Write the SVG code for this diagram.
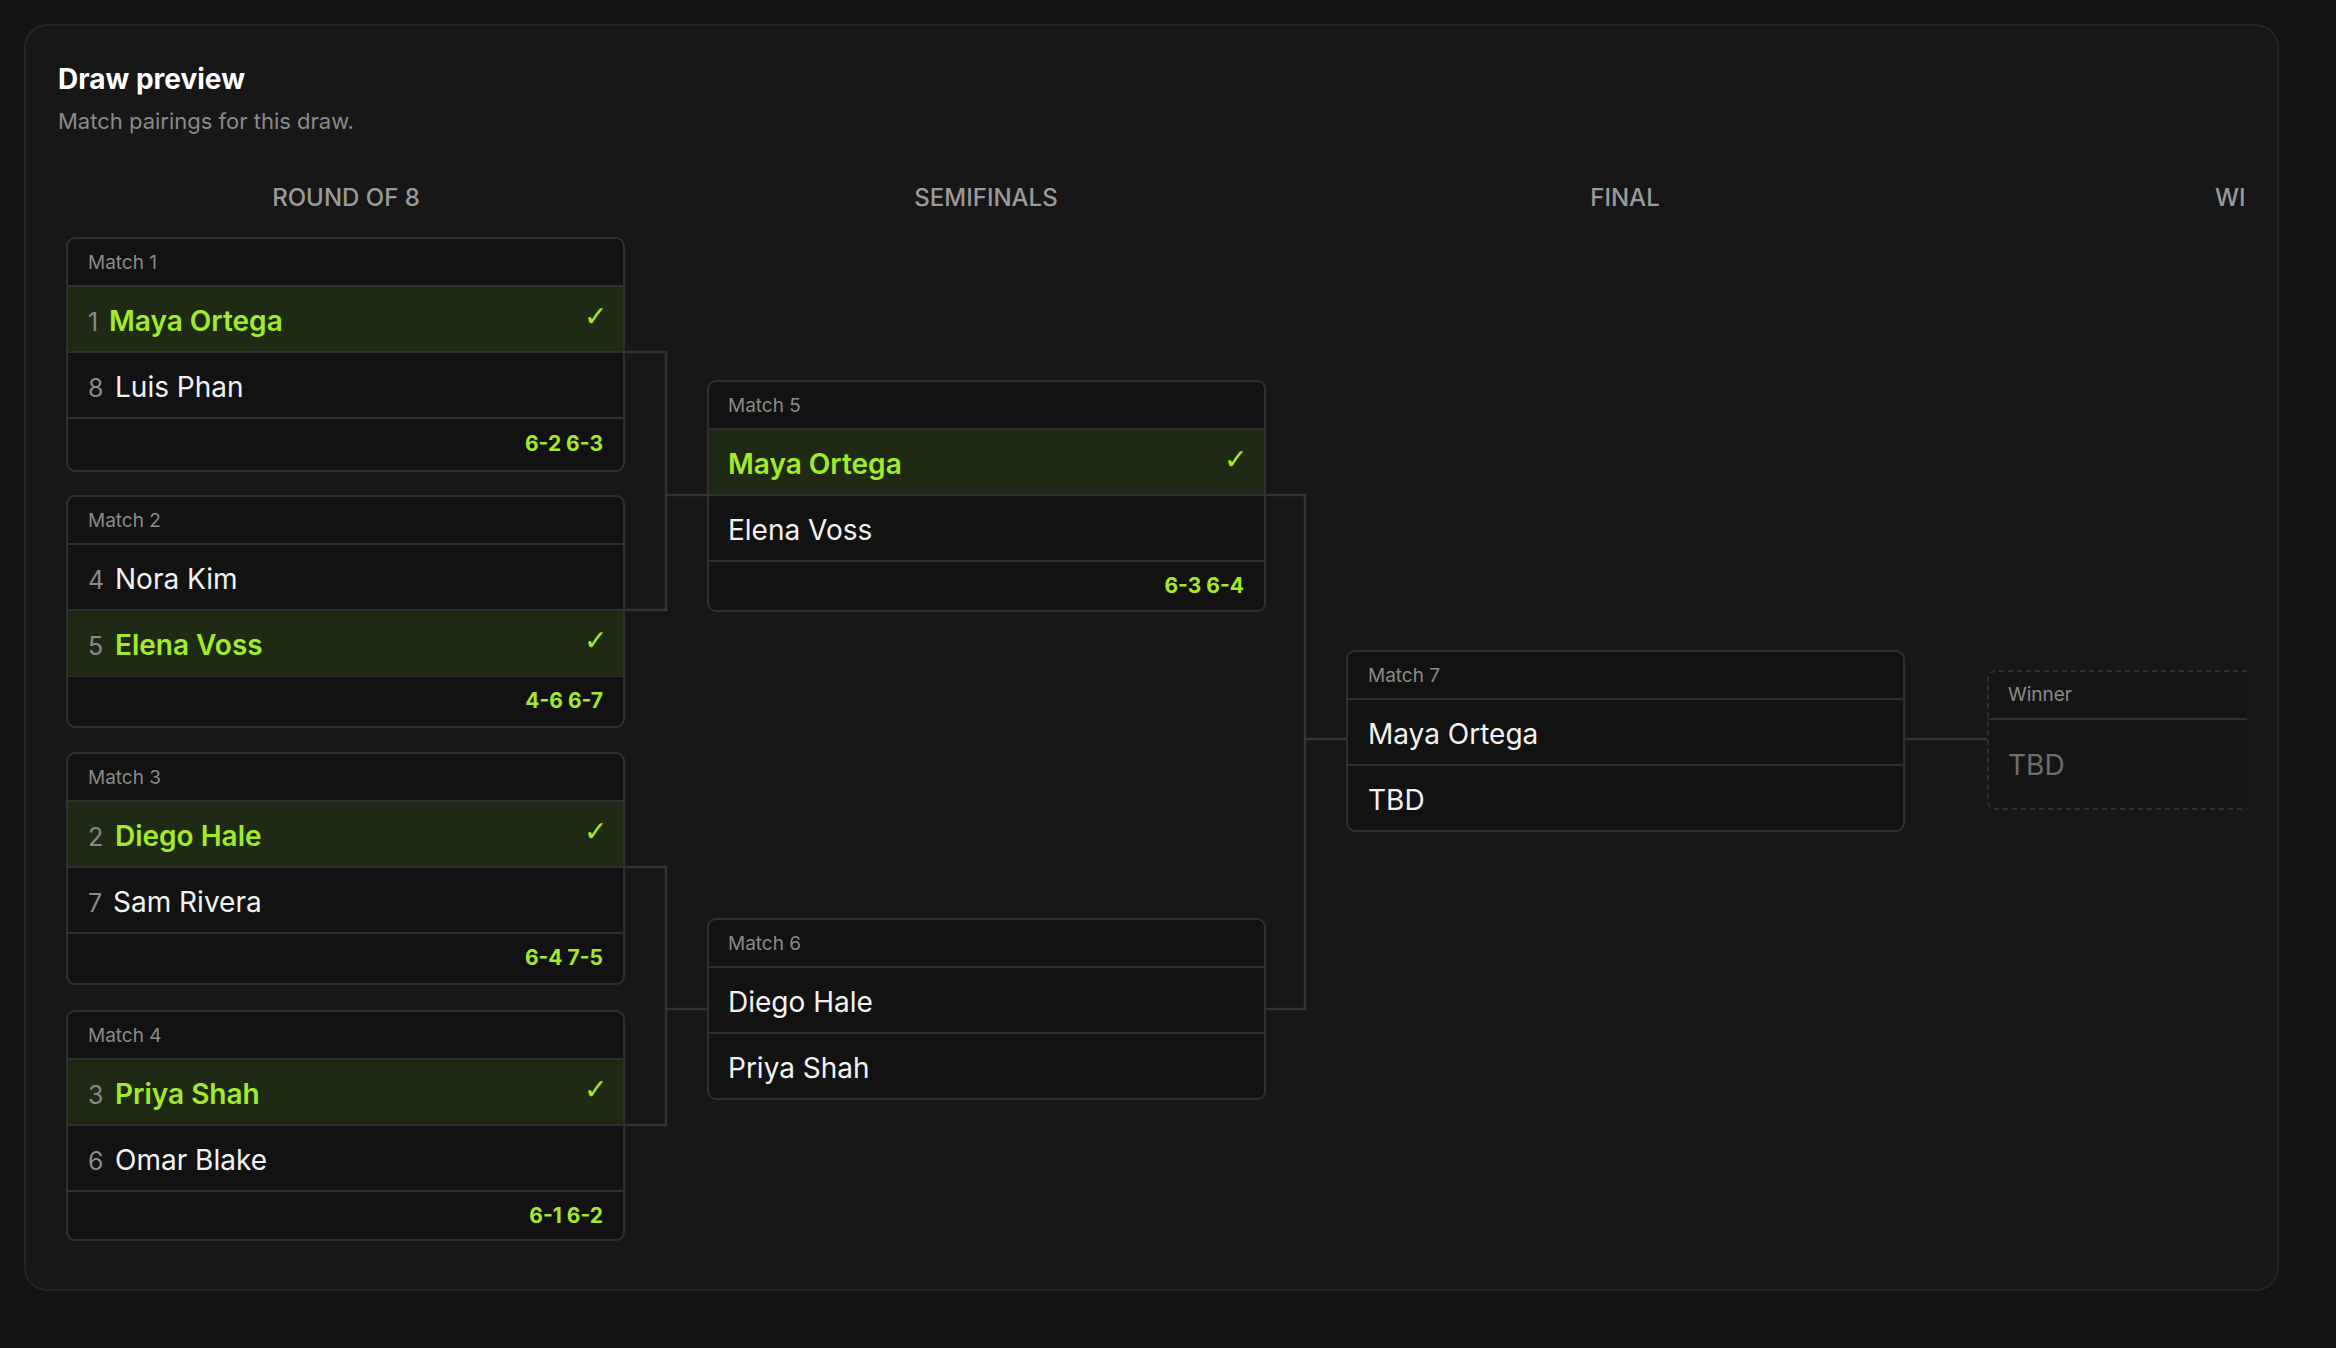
<svg xmlns="http://www.w3.org/2000/svg" width="2336" height="1348" viewBox="0 0 2336 1348">
<style>
text{font-family:Inter,"Noto Sans",sans-serif}
.box{fill:#121212;stroke:#2f2f2f;stroke-width:2}
.div{stroke:#2f2f2f;stroke-width:2}
.win{fill:#1f2a15}
.lbl{font-size:19px;fill:#8a8a8a}
.seed{font-size:25px;fill:#8a8a8a}
.nm{font-size:28px;fill:#f2f2f2}
.nw{font-size:28px;fill:#a3ea2a;font-weight:600}
.chk{font-size:28px;fill:#a3ea2a;font-family:"DejaVu Sans",sans-serif}
.sc{font-size:21px;fill:#a3ea2a;font-weight:700;text-anchor:end}
.hd{font-size:24px;fill:#9a9a9a;font-weight:500;text-anchor:middle}
.con{fill:none;stroke:#333;stroke-width:2.5}
</style>
<rect width="2336" height="1348" fill="#131313"/>
<rect x="25" y="25" width="2253" height="1265" rx="22" fill="#171717" stroke="#242424" stroke-width="2"/>
<text x="58" y="89" font-size="28" font-weight="700" fill="#ffffff">Draw preview</text>
<text x="58" y="129" font-size="22" fill="#8a8a8a">Match pairings for this draw.</text>
<text class="hd" x="346" y="206">ROUND OF 8</text>
<text class="hd" x="986" y="206">SEMIFINALS</text>
<text class="hd" x="1625" y="206">FINAL</text>
<text x="2215" y="206" font-size="24" fill="#9a9a9a" font-weight="500">WI</text>
<g id="connectors">
<path class="con" d="M624 352H666V610H624M666 495H708"/>
<path class="con" d="M624 867H666V1125H624M666 1009H708"/>
<path class="con" d="M1265 495H1305V1009H1265M1305 739H1347"/>
<path class="con" d="M1904 739H1987"/>
</g>
<g id="match1">
<rect class="box" x="67" y="238" width="557" height="233" rx="8"/>
<rect class="win" x="68" y="287" width="555" height="65"/>
<path class="div" d="M68 286H623M68 352H623M68 418H623"/>
<text class="lbl" x="88" y="269">Match 1</text>
<text class="seed" x="88" y="331">1</text><text class="nw" x="109" y="331">Maya Ortega</text><text class="chk" x="584" y="326">✓</text>
<text class="seed" x="88" y="397">8</text><text class="nm" x="115" y="397">Luis Phan</text>
<text class="sc" x="603" y="451">6-2 6-3</text>
</g>
<g id="match2">
<rect class="box" x="67" y="496" width="557" height="231" rx="8"/>
<path class="div" d="M68 544H623M68 610H623M68 676H623"/>
<rect class="win" x="68" y="611" width="555" height="65"/>
<text class="lbl" x="88" y="527">Match 2</text>
<text class="seed" x="88" y="589">4</text><text class="nm" x="115" y="589">Nora Kim</text>
<text class="seed" x="88" y="655">5</text><text class="nw" x="115" y="655">Elena Voss</text><text class="chk" x="584" y="650">✓</text>
<text class="sc" x="603" y="708">4-6 6-7</text>
</g>
<g id="match3">
<rect class="box" x="67" y="753" width="557" height="231" rx="8"/>
<rect class="win" x="68" y="802" width="555" height="65"/>
<path class="div" d="M68 801H623M68 867H623M68 933H623"/>
<text class="lbl" x="88" y="784">Match 3</text>
<text class="seed" x="88" y="846">2</text><text class="nw" x="115" y="846">Diego Hale</text><text class="chk" x="584" y="841">✓</text>
<text class="seed" x="88" y="912">7</text><text class="nm" x="113" y="912">Sam Rivera</text>
<text class="sc" x="603" y="965">6-4 7-5</text>
</g>
<g id="match4">
<rect class="box" x="67" y="1011" width="557" height="229" rx="8"/>
<rect class="win" x="68" y="1060" width="555" height="65"/>
<path class="div" d="M68 1059H623M68 1125H623M68 1191H623"/>
<text class="lbl" x="88" y="1042">Match 4</text>
<text class="seed" x="88" y="1104">3</text><text class="nw" x="115" y="1104">Priya Shah</text><text class="chk" x="584" y="1099">✓</text>
<text class="seed" x="88" y="1170">6</text><text class="nm" x="115" y="1170">Omar Blake</text>
<text class="sc" x="603" y="1223">6-1 6-2</text>
</g>
<g id="match5">
<rect class="box" x="708" y="381" width="557" height="230" rx="8"/>
<rect class="win" x="709" y="430" width="555" height="65"/>
<path class="div" d="M709 429H1264M709 495H1264M709 561H1264"/>
<text class="lbl" x="728" y="412">Match 5</text>
<text class="nw" x="728" y="474">Maya Ortega</text><text class="chk" x="1224" y="469">✓</text>
<text class="nm" x="728" y="540">Elena Voss</text>
<text class="sc" x="1244" y="593">6-3 6-4</text>
</g>
<g id="match6">
<rect class="box" x="708" y="919" width="557" height="180" rx="8"/>
<path class="div" d="M709 967H1264M709 1033H1264"/>
<text class="lbl" x="728" y="950">Match 6</text>
<text class="nm" x="728" y="1012">Diego Hale</text>
<text class="nm" x="728" y="1078">Priya Shah</text>
</g>
<g id="match7">
<rect class="box" x="1347" y="651" width="557" height="180" rx="8"/>
<path class="div" d="M1348 699H1903M1348 765H1903"/>
<text class="lbl" x="1368" y="682">Match 7</text>
<text class="nm" x="1368" y="744">Maya Ortega</text>
<text class="nm" x="1368" y="810">TBD</text>
</g>
<g id="winner">
<path d="M2247 671H1997Q1988 671 1988 680V800Q1988 809 1997 809H2247" fill="#151515" stroke="#2f2f2f" stroke-width="2" stroke-dasharray="5 4"/>
<path class="div" d="M1988 719H2247"/>
<text class="lbl" x="2008" y="701">Winner</text>
<text x="2008" y="775" font-size="28" fill="#6e6e6e">TBD</text>
</g>
</svg>
